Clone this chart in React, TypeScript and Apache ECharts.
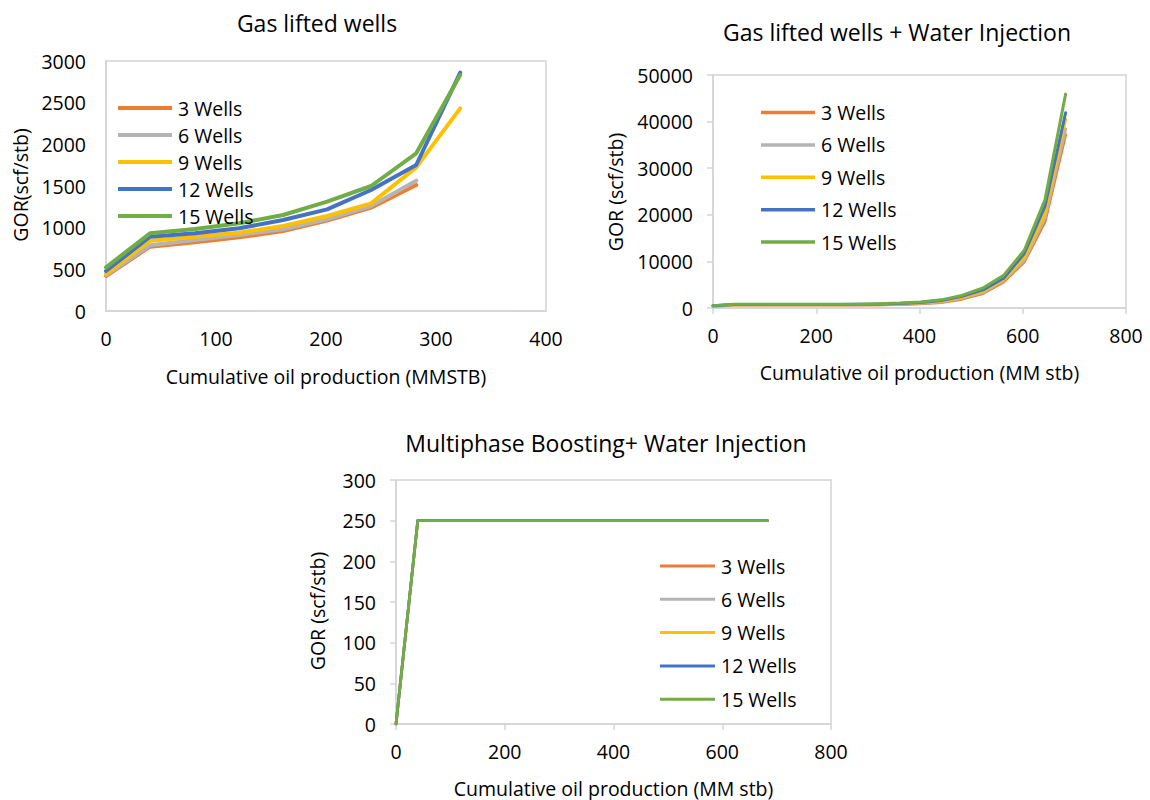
import React, { useEffect, useRef } from "react";
import * as echarts from "echarts";

const FONT = "'Open Sans', 'Noto Sans', sans-serif";

const seriesNames = ["3 Wells", "6 Wells", "9 Wells", "12 Wells", "15 Wells"];
const seriesColors = ["#ED7D31", "#B4B4B4", "#FFC000", "#4472C4", "#70AD47"];

const titles = [
  "Gas lifted wells",
  "Gas lifted wells + Water Injection",
  "Multiphase Boosting+ Water Injection",
];
const yNames = ["GOR(scf/stb)", "GOR (scf/stb)", "GOR (scf/stb)"];
const xNames = [
  "Cumulative oil production (MMSTB)",
  "Cumulative oil production (MM stb)",
  "Cumulative oil production (MM stb)",
];

// Chart 1: Gas lifted wells
const gasLiftX = [0, 40, 81, 121, 161, 201, 241, 282, 322];
const gasLift3 = [420, 772, 824, 884, 960, 1084, 1240, 1512];
const gasLift6 = [430, 788, 852, 912, 980, 1100, 1260, 1564];
const gasLift9 = [444, 844, 892, 940, 1020, 1140, 1292, 1724, 2432];
const gasLift12 = [480, 892, 932, 992, 1092, 1220, 1452, 1752, 2860];
const gasLift15 = [524, 932, 984, 1052, 1152, 1312, 1500, 1892, 2832];

// Chart 2: Gas lifted wells + Water Injection
const waterX = [0, 40, 80, 121, 161, 201, 241, 281, 322, 362, 402, 442, 482, 523, 563, 603, 643, 683];
const water3 = [400, 650, 660, 660, 660, 660, 660, 670, 700, 750, 900, 1200, 1900, 3100, 5600, 9900, 18500, 37200];
const water6 = [420, 680, 690, 690, 690, 690, 690, 700, 720, 800, 1000, 1300, 2100, 3300, 5900, 10200, 19300, 38400];
const water9 = [440, 720, 730, 730, 730, 730, 730, 740, 780, 880, 1100, 1450, 2300, 3600, 6100, 10800, 20300, 40500];
const water12 = [470, 760, 770, 770, 770, 770, 770, 780, 830, 950, 1200, 1600, 2500, 3900, 6400, 11700, 21800, 41900];
const water15 = [510, 800, 810, 810, 810, 810, 810, 820, 900, 1050, 1300, 1750, 2700, 4300, 7000, 12400, 23200, 45900];

// Chart 3: Multiphase Boosting + Water Injection
const boostX = [0, 40, 80, 121, 161, 201, 241, 281, 322, 362, 402, 442, 482, 523, 563, 603, 643, 683];
const boost3 = [0, 250, 250, 250, 250, 250, 250, 250, 250, 250, 250, 250, 250, 250, 250, 250, 250, 250];
const boost6 = [0, 250, 250, 250, 250, 250, 250, 250, 250, 250, 250, 250, 250, 250, 250, 250, 250, 250];
const boost9 = [0, 250, 250, 250, 250, 250, 250, 250, 250, 250, 250, 250, 250, 250, 250, 250, 250, 250];
const boost12 = [0, 250, 250, 250, 250, 250, 250, 250, 250, 250, 250, 250, 250, 250, 250, 250, 250, 250];
const boost15 = [0, 250, 250, 250, 250, 250, 250, 250, 250, 250, 250, 250, 250, 250, 250, 250, 250, 250];

const yMax = [3000, 50000, 300];
const yStep = [500, 10000, 50];
const xMax = [400, 800, 800];
const xStep = [100, 200, 200];

const GRAY = "#d4d4d4";

function pairs(xs: number[], ys: number[]) {
  return ys.map((y, i) => [xs[i], y]);
}

export default function App() {
  const ref = useRef<HTMLDivElement>(null);

  useEffect(() => {
    if (!ref.current) return;
    const chart = echarts.init(ref.current, undefined, { renderer: "svg" });

    const grids = [
      { left: 106, top: 61, width: 440, height: 250 },
      { left: 713, top: 75, width: 413, height: 233 },
      { left: 396, top: 480, width: 435, height: 244 },
    ];
    const showTicks = [false, true, true];
    const lineWidths = [4, 3, 2.75];

    const allData = [
      [gasLift3, gasLift6, gasLift9, gasLift12, gasLift15].map((d) => pairs(gasLiftX, d)),
      [water3, water6, water9, water12, water15].map((d) => pairs(waterX, d)),
      [boost3, boost6, boost9, boost12, boost15].map((d) => pairs(boostX, d)),
    ];

    const labelStyle = { fontFamily: FONT, fontSize: 19.5, color: "#000" };
    const plain = (v: number) => String(v);

    const series: any[] = [];
    allData.forEach((group, gi) => {
      group.forEach((data, si) => {
        series.push({
          type: "line",
          name: seriesNames[si],
          xAxisIndex: gi,
          yAxisIndex: gi,
          data,
          symbol: "none",
          showSymbol: false,
          color: seriesColors[si],
          lineStyle: { width: lineWidths[gi], color: seriesColors[si], cap: "round", join: "round" },
          emphasis: { disabled: true },
          silent: true,
        });
      });
    });

    const legendPos = [
      { left: 118, top: 97, itemWidth: 54, itemHeight: 4, itemGap: 5 },
      { left: 761, top: 101.5, itemWidth: 54, itemHeight: 3.5, itemGap: 10.4 },
      { left: 660, top: 555, itemWidth: 55, itemHeight: 3, itemGap: 11.3 },
    ];

    const titlePos = [
      [317, 23],
      [897, 32],
      [606, 443],
    ];
    const yNamePos = [
      [20, 185],
      [615, 192],
      [317, 611],
    ];
    const xNamePos = [
      [326, 376],
      [919.5, 372],
      [613.5, 788],
    ];

    const graphics: any[] = [];
    for (let i = 0; i < 3; i++) {
      graphics.push({
        type: "text",
        x: titlePos[i][0],
        y: titlePos[i][1],
        style: {
          text: titles[i],
          fontFamily: FONT,
          fontSize: 23,
          fill: "#000",
          textAlign: "center",
          textVerticalAlign: "middle",
          align: "center",
          verticalAlign: "middle",
        },
      });
      graphics.push({
        type: "text",
        x: yNamePos[i][0],
        y: yNamePos[i][1],
        rotation: Math.PI / 2,
        style: {
          text: yNames[i],
          fontFamily: FONT,
          fontSize: 19.5,
          fill: "#000",
          textAlign: "center",
          textVerticalAlign: "middle",
          align: "center",
          verticalAlign: "middle",
        },
      });
      graphics.push({
        type: "text",
        x: xNamePos[i][0],
        y: xNamePos[i][1],
        style: {
          text: xNames[i],
          fontFamily: FONT,
          fontSize: 19.5,
          fill: "#000",
          textAlign: "center",
          textVerticalAlign: "middle",
          align: "center",
          verticalAlign: "middle",
        },
      });
    }

    const option: any = {
      animation: false,
      backgroundColor: "#ffffff",
      textStyle: { fontFamily: FONT },
      grid: grids.map((g) => ({
        ...g,
        show: true,
        borderColor: GRAY,
        borderWidth: 1.5,
        backgroundColor: "transparent",
        containLabel: false,
        outerBoundsMode: "none",
      })),
      xAxis: grids.map((_, i) => ({
        type: "value",
        gridIndex: i,
        min: 0,
        max: xMax[i],
        interval: xStep[i],
        axisLine: { show: true, lineStyle: { color: GRAY, width: 1.5 } },
        axisTick: { show: showTicks[i], length: 6, lineStyle: { color: GRAY, width: 1.5 } },
        splitLine: { show: false },
        axisLabel: { ...labelStyle, margin: 17, formatter: plain },
      })),
      yAxis: grids.map((_, i) => ({
        type: "value",
        gridIndex: i,
        min: 0,
        max: yMax[i],
        interval: yStep[i],
        axisLine: { show: true, lineStyle: { color: GRAY, width: 1.5 } },
        axisTick: { show: showTicks[i], length: 6, lineStyle: { color: GRAY, width: 1.5 } },
        splitLine: { show: false },
        axisLabel: { ...labelStyle, margin: 20, formatter: plain },
      })),
      legend: legendPos.map((l) => ({
        orient: "vertical",
        left: l.left,
        top: l.top,
        padding: 0,
        itemWidth: l.itemWidth,
        itemHeight: l.itemHeight,
        itemGap: l.itemGap,
        icon: "rect",
        selectedMode: false,
        data: seriesNames,
        textStyle: { ...labelStyle, lineHeight: 22, padding: [0, 0, 0, 1] },
      })),
      series,
      graphic: graphics,
    };

    chart.setOption(option);
    return () => {
      chart.dispose();
    };
  }, []);

  return (
    <div
      ref={ref}
      style={{ position: "absolute", left: 0, top: 0, width: 1150, height: 800, background: "#fff" }}
    />
  );
}
